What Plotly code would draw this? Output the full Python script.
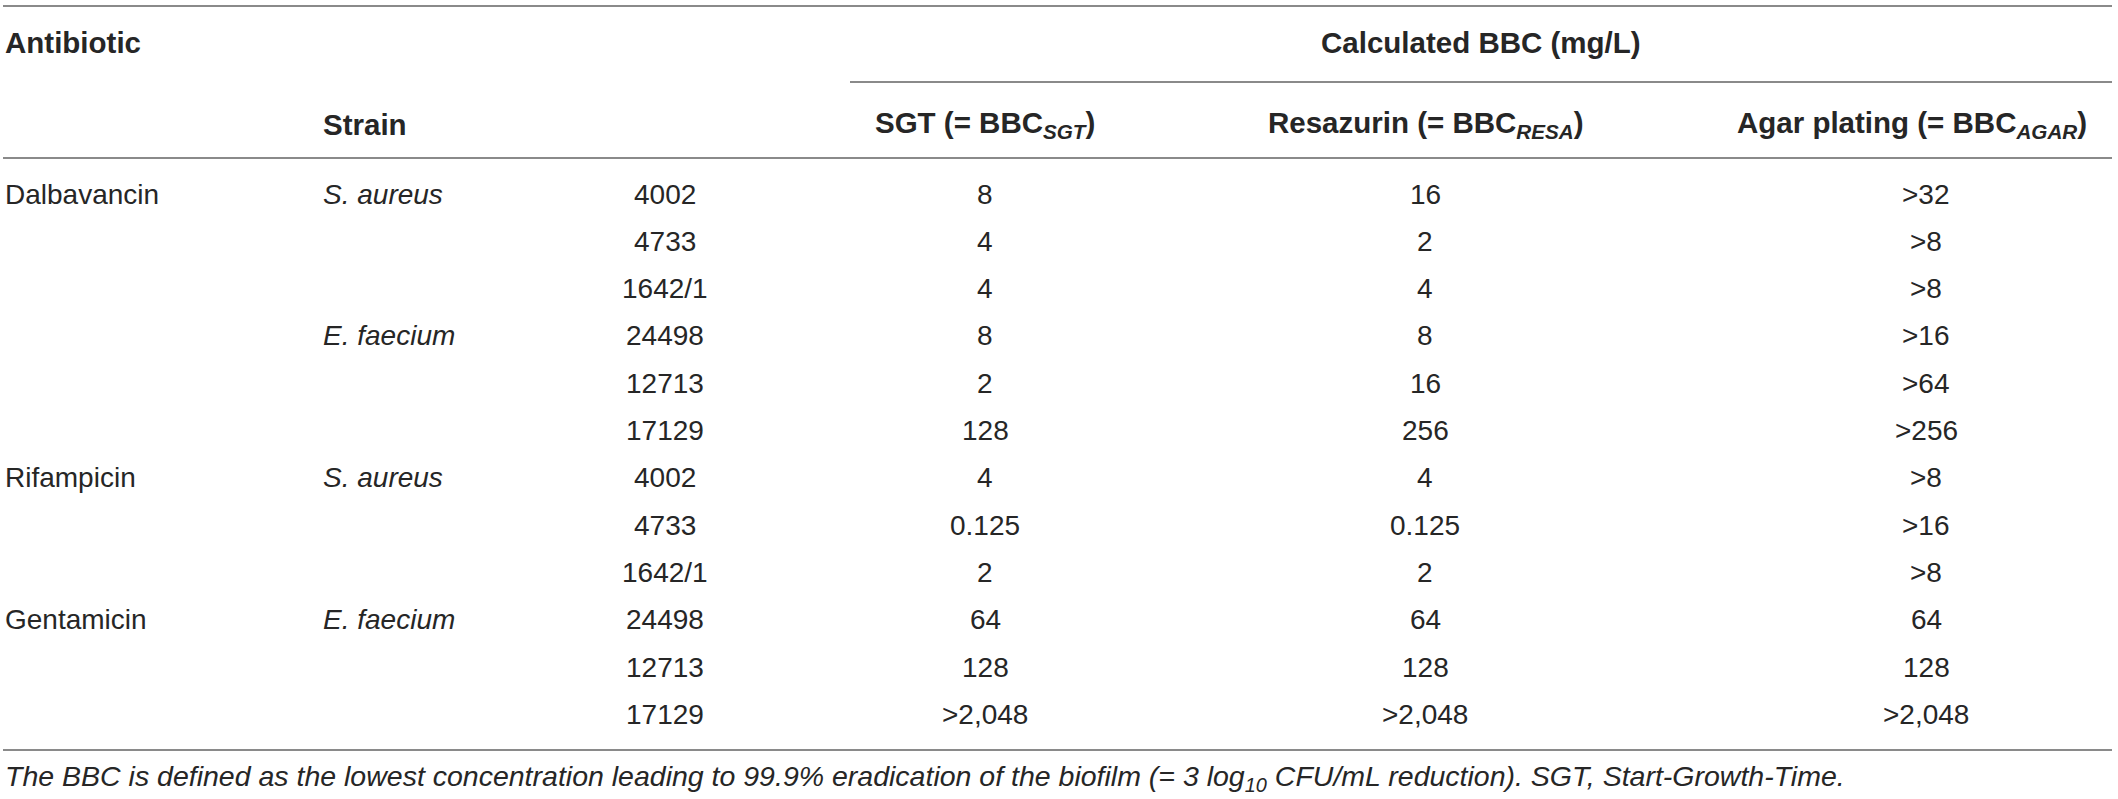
import plotly.graph_objects as go

# ---- data ----
antibiotics = ["Dalbavancin", "", "", "", "", "", "Rifampicin", "", "", "Gentamicin", "", ""]
strains = ["S. aureus", "", "", "E. faecium", "", "", "S. aureus", "", "", "E. faecium", "", ""]
strain_ids = ["4002", "4733", "1642/1", "24498", "12713", "17129",
              "4002", "4733", "1642/1", "24498", "12713", "17129"]
bbc_sgt = ["8", "4", "4", "8", "2", "128", "4", "0.125", "2", "64", "128", ">2,048"]
bbc_resa = ["16", "2", "4", "8", "16", "256", "4", "0.125", "2", "64", "128", ">2,048"]
bbc_agar = [">32", ">8", ">8", ">16", ">64", ">256", ">8", ">16", ">8", "64", "128", ">2,048"]

header_top = ["Antibiotic", "Calculated BBC (mg/L)"]
header_sub = ["Strain", "SGT (= BBC<sub><i>SGT</i></sub>)",
              "Resazurin (= BBC<sub><i>RESA</i></sub>)",
              "Agar plating (= BBC<sub><i>AGAR</i></sub>)"]
footnote = ("The BBC is defined as the lowest concentration leading to 99.9% eradication of the "
            "biofilm (= 3 log<sub>10</sub> CFU/mL reduction). SGT, Start-Growth-Time.")

# ---- layout constants ----
W, H = 2118, 799
ROW0_PX, ROW_PX = 194, 47.3           # pixel of first data row, row pitch
def yrow(px):                          # pixel -> row units
    return (px - ROW0_PX) / ROW_PX

FONT = "Liberation Sans, Arial, Helvetica, sans-serif"
TXT = "#262626"
LINE = "#8a8a8a"
BODY = 28
HEAD = 29.5

X_ANTI, X_STRAIN = 4, 322
X_ID, X_SGT, X_RESA, X_AGAR = 665, 985, 1425, 1926
X_SGT_H, X_RESA_H, X_AGAR_H = 985, 1426, 1912
X_CALC = 1481
X_END = 2112
X_SUBLINE = 850

fig = go.Figure()
fig.add_trace(go.Scatter(x=[0, W], y=[yrow(0), yrow(H)], mode="markers",
                         marker=dict(opacity=0), hoverinfo="skip", showlegend=False))

ann = []
def add(x, y, text, anchor="center", size=BODY, bold=False, italic=False):
    t = text
    if italic:
        t = "<i>" + t + "</i>"
    if bold:
        t = "<b>" + t + "</b>"
    ann.append(dict(x=x, y=y, xref="x", yref="y", text=t, showarrow=False,
                    xanchor=anchor, yanchor="middle", borderpad=0,
                    font=dict(family=FONT, size=size, color=TXT)))

# headers
add(X_ANTI, yrow(42), header_top[0], anchor="left", size=HEAD, bold=True)
add(X_CALC, yrow(42), header_top[1], size=HEAD, bold=True)
add(X_STRAIN, yrow(124), header_sub[0], anchor="left", size=HEAD, bold=True)
add(X_SGT_H, yrow(124), header_sub[1], size=HEAD, bold=True)
add(X_RESA_H, yrow(124), header_sub[2], size=HEAD, bold=True)
add(X_AGAR_H, yrow(124), header_sub[3], size=HEAD, bold=True)

# body rows
for i in range(len(strain_ids)):
    if antibiotics[i]:
        add(X_ANTI, i, antibiotics[i], anchor="left")
    if strains[i]:
        add(X_STRAIN, i, strains[i], anchor="left", italic=True)
    add(X_ID, i, strain_ids[i])
    add(X_SGT, i, bbc_sgt[i].replace(">", "&gt;"))
    add(X_RESA, i, bbc_resa[i].replace(">", "&gt;"))
    add(X_AGAR, i, bbc_agar[i].replace(">", "&gt;"))

# footnote
add(X_ANTI, yrow(778), footnote, anchor="left", size=28.5, italic=True)

shapes = []
def hline(x0, x1, px):
    shapes.append(dict(type="line", xref="x", yref="y", x0=x0, x1=x1,
                       y0=yrow(px), y1=yrow(px), line=dict(color=LINE, width=2)))
hline(3, X_END, 6)
hline(X_SUBLINE, X_END, 82)
hline(3, X_END, 158)
hline(3, X_END, 750)

fig.update_layout(
    width=W, height=H,
    margin=dict(l=0, r=0, t=0, b=0),
    paper_bgcolor="white", plot_bgcolor="white",
    xaxis=dict(range=[0, W], visible=False, fixedrange=True),
    yaxis=dict(range=[yrow(H), yrow(0)], visible=False, fixedrange=True),
    annotations=ann, shapes=shapes, showlegend=False,
)

fig.write_html("out.html", config={"displayModeBar": False},
               post_script="document.body.style.margin='0';document.body.style.overflow='hidden';")
